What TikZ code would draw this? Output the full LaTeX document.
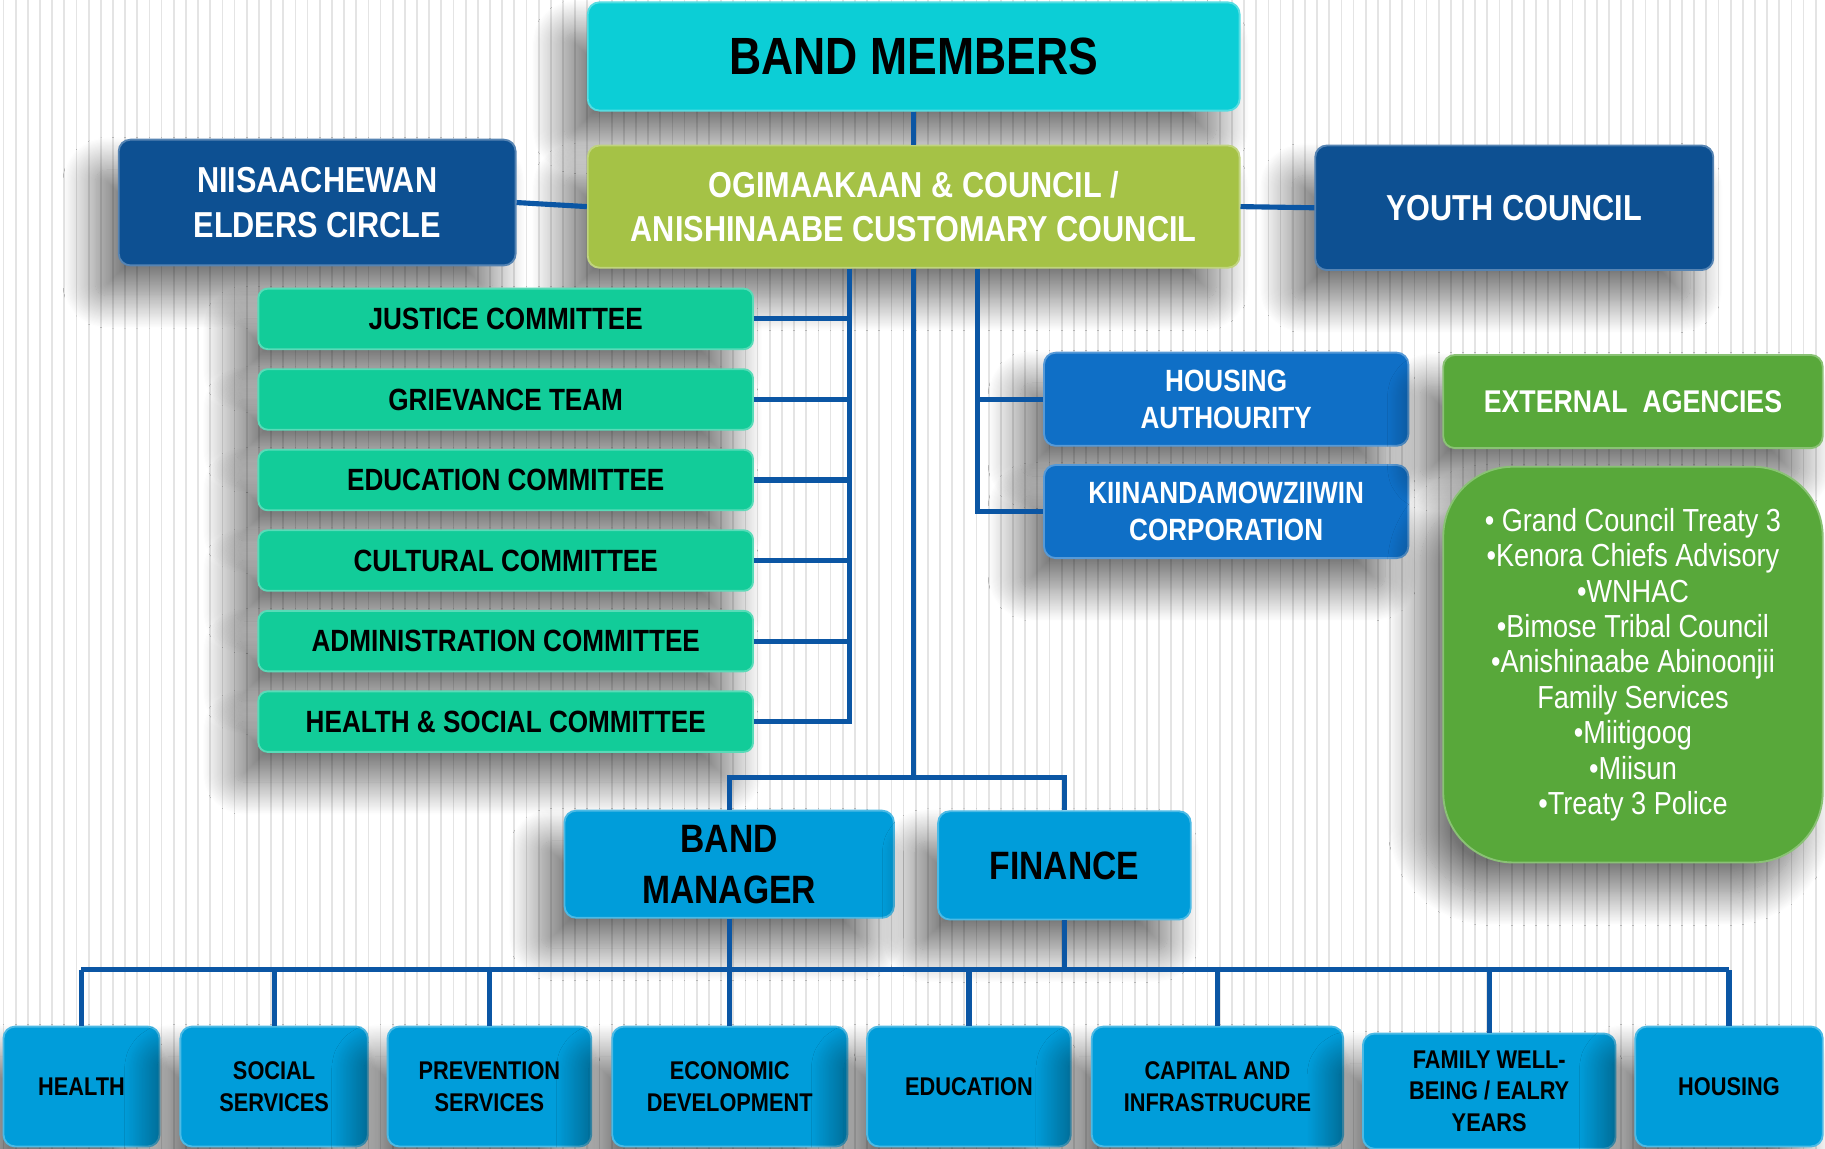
\documentclass[tikz,border=0pt]{standalone}
\usepackage{fontspec}
\setmainfont{Liberation Sans}[FakeStretch=0.85]
\usepackage{xcolor}
\definecolor{memberscyan}{RGB}{12,206,214}
\definecolor{councilgreen}{RGB}{165,194,70}
\definecolor{eldersblue}{RGB}{13,80,146}
\definecolor{committeeteal}{RGB}{18,204,153}
\definecolor{housingblue}{RGB}{15,111,198}
\definecolor{agencygreen}{RGB}{88,168,58}
\definecolor{deptblue}{RGB}{0,157,218}
\definecolor{linkblue}{RGB}{11,86,164}
\definecolor{stripegray}{RGB}{228,228,228}
\usepackage{tikz}
\usetikzlibrary{shadows.blur}

\tikzset{
  orgbox/.style={rounded corners=5pt, align=center, inner sep=1pt, line width=0.8pt,
    blur shadow={shadow xshift=-10pt, shadow yshift=-13pt, shadow blur radius=14pt,
      shadow blur steps=30, shadow opacity=55}},
  membersbox/.style={orgbox, fill=memberscyan, draw=memberscyan!70!white, text=black,
    minimum width=280pt, minimum height=46.5pt, font=\bfseries\fontsize{22.5}{26}\selectfont},
  councilbox/.style={orgbox, fill=councilgreen, draw=councilgreen!70!white, text=white,
    minimum width=280pt, minimum height=52.5pt, font=\bfseries\fontsize{15.5}{19}\selectfont},
  circlebox/.style={orgbox, fill=eldersblue, draw=eldersblue!70!white, text=white,
    minimum height=54pt, font=\bfseries\fontsize{15.5}{19}\selectfont},
  committeebox/.style={orgbox, rounded corners=4pt, fill=committeeteal, draw=committeeteal!70!white, text=black,
    minimum width=212.5pt, minimum height=26pt, font=\bfseries\fontsize{13.2}{16}\selectfont},
  housingbox/.style={orgbox, fill=housingblue, draw=housingblue!70!white, text=white,
    minimum width=156.5pt, minimum height=40pt, font=\bfseries\fontsize{13.2}{16}\selectfont},
  agencybox/.style={orgbox, fill=agencygreen, draw=agencygreen!70!white, text=white,
    minimum width=163pt, font=\bfseries\fontsize{13.5}{16}\selectfont},
  managerbox/.style={orgbox, fill=deptblue, draw=deptblue!70!white, text=black,
    minimum height=46pt, font=\bfseries\fontsize{17}{22}\selectfont},
  deptbox/.style={orgbox, fill=deptblue, draw=deptblue!70!white, text=black,
    font=\bfseries\fontsize{11}{13.5}\selectfont},
  link/.style={draw=linkblue, line width=2.2pt}
}

\begin{document}
\begin{tikzpicture}[x=0.5pt, y=-0.5pt]
  \useasboundingbox (0,0) rectangle (1568,987);
  % striped background
  \foreach \i in {0,...,150}
    \draw[stripegray, line width=0.75pt] ({3+10.45*\i},0) -- ({3+10.45*\i},987);

  % top of the chart
  \node[membersbox] (members) at (785,48.5) {BAND MEMBERS};
  \node[councilbox] (council) at (785,177.5) {OGIMAAKAAN \& COUNCIL /\\ANISHINAABE CUSTOMARY COUNCIL};
  \node[circlebox, minimum width=170.5pt] (elders) at (272.5,174) {NIISAACHEWAN\\ELDERS CIRCLE};
  \node[circlebox, minimum width=171pt, minimum height=53.5pt] (youth) at (1301,178.5) {YOUTH COUNCIL};

  % committees
  \foreach \txt [count=\i from 0] in {JUSTICE COMMITTEE, GRIEVANCE TEAM, EDUCATION COMMITTEE,
      CULTURAL COMMITTEE, ADMINISTRATION COMMITTEE, HEALTH \& SOCIAL COMMITTEE}
    \node[committeebox] (cm\i) at (434.5,{274+69.2*\i}) {\txt};

  % housing
  \node[housingbox] (hauth) at (1053.5,343) {HOUSING\\AUTHOURITY};
  \node[housingbox] (kiin) at (1053.5,439.5) {KIINANDAMOWZIIWIN\\CORPORATION};

  % external agencies
  \node[agencybox, minimum height=40pt] (agencies) at (1403,345) {EXTERNAL\ \ AGENCIES};
  \node[agencybox, rounded corners=30pt, minimum height=170pt, font=\fontsize{13.7}{15.2}\selectfont]
    (agencylist) at (1403,571) {• Grand Council Treaty 3\\•Kenora Chiefs Advisory\\•WNHAC\\•Bimose Tribal Council\\
    •Anishinaabe Abinoonjii\\Family Services\\•Miitigoog\\•Miisun\\•Treaty 3 Police};

  % administration
  \node[managerbox, minimum width=141.5pt] (manager) at (626.5,742.5) {BAND\\MANAGER};
  \node[managerbox, minimum width=108.5pt, minimum height=46.5pt] (finance) at (914.5,743.5) {FINANCE};

  % departments
  \foreach \name/\cx/\cy/\w/\h/\txt in {
      health/70/933.5/67/51.5/{HEALTH},
      social/235.5/933.5/80.5/51.5/{SOCIAL\\SERVICES},
      prevent/420.5/933.5/87.5/51.5/{PREVENTION\\SERVICES},
      econ/627/933.5/101/51.5/{ECONOMIC\\DEVELOPMENT},
      educ/832.5/933.5/87.5/51.5/{EDUCATION},
      capital/1046/933.5/108/51.5/{CAPITAL AND\\INFRASTRUCURE},
      family/1279.5/937.5/108.5/49.5/{FAMILY WELL-\\BEING / EALRY\\YEARS},
      dhousing/1485.5/933.5/80.5/51.5/{HOUSING}}
    \node[deptbox, minimum width=\w pt, minimum height=\h pt] (\name) at (\cx,\cy) {\txt};

  % connectors
  \coordinate (cmx) at (730,0);
  \coordinate (hsx) at (840,0);
  \coordinate (split) at (785,668);
  \coordinate (bus) at (0,833);

  \draw[link] (members.south) -- (council.north);
  \draw[link] (elders.east) -- (council.west);
  \draw[link] (council.east) -- (youth.west);

  \draw[link] (council.south -| cmx) |- (cm5.east);
  \foreach \i in {0,...,4}
    \draw[link] (cm\i.east) -- (cm\i.east -| cmx);

  \draw[link] (council.south -| hsx) |- (kiin.west);
  \draw[link] (hauth.west) -- (hauth.west -| hsx);

  \draw[link] (council.south) -- (split);
  \draw[link] (manager.north) -- (manager.north |- split) -- (finance.north |- split) -- (finance.north);

  \draw[link] (manager.south) -- (manager.south |- bus);
  \draw[link] (finance.south) -- (finance.south |- bus);
  \draw[link] (health.north |- bus) -- (dhousing.north |- bus);
  \foreach \name in {health,social,prevent,econ,educ,capital,family,dhousing}
    \draw[link] (\name.north) -- (\name.north |- bus);
\end{tikzpicture}
\end{document}
